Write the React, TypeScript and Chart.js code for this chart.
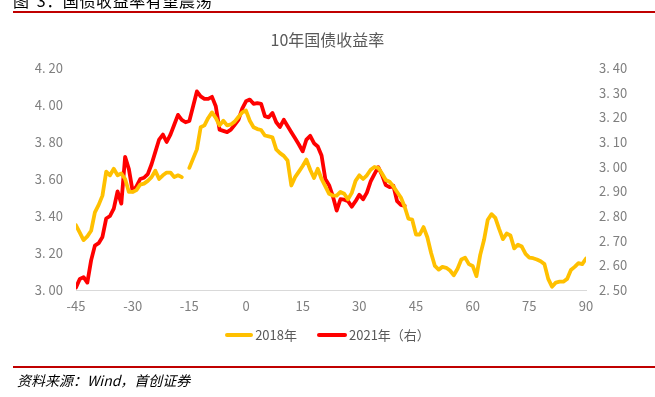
import React, { useEffect, useRef } from "react";
import { Chart, registerables } from "chart.js";

Chart.register(...registerables);

// x positions are trading days relative to the reference date, starting at -45
const xStart = -45;
const xMin = -45;
const xMax = 90;
const xStep = 15;

// 2018 10Y yield (left axis), one value per day from -45 to 90
const yield2018: (number | null)[] = [
  3.35, 3.31, 3.27, 3.29, 3.32, 3.42, 3.46, 3.51, 3.64, 3.62,
  3.655, 3.62, 3.63, 3.6, 3.53, 3.53, 3.54, 3.57, 3.575, 3.59,
  3.61, 3.645, 3.6, 3.62, 3.635, 3.635, 3.61, 3.62, 3.61, null,
  3.66, 3.71, 3.76, 3.88, 3.89, 3.93, 3.96, 3.93, 3.89, 3.915,
  3.89, 3.895, 3.91, 3.935, 3.96, 3.97, 3.915, 3.88, 3.87, 3.865,
  3.835, 3.83, 3.825, 3.76, 3.74, 3.725, 3.7, 3.565, 3.61, 3.64,
  3.67, 3.705, 3.65, 3.605, 3.655, 3.6, 3.56, 3.52, 3.51, 3.51,
  3.53, 3.52, 3.49, 3.525, 3.59, 3.62, 3.6, 3.62, 3.65, 3.665,
  3.66, 3.63, 3.595, 3.585, 3.56, 3.53, 3.5, 3.45, 3.385, 3.38,
  3.3, 3.3, 3.34, 3.285, 3.2, 3.13, 3.11, 3.125, 3.12, 3.105,
  3.08, 3.115, 3.165, 3.175, 3.14, 3.13, 3.075, 3.19, 3.27, 3.38,
  3.41, 3.39, 3.33, 3.275, 3.305, 3.295, 3.225, 3.245, 3.235, 3.195,
  3.175, 3.172, 3.165, 3.155, 3.14, 3.06, 3.018, 3.04, 3.045, 3.045,
  3.06, 3.108, 3.125, 3.145, 3.14, 3.17,
];

// 2021 10Y yield (right axis), one value per day from -45 to 42
const yield2021: number[] = [
  2.51, 2.545, 2.552, 2.53, 2.62, 2.68, 2.69, 2.715, 2.79, 2.8,
  2.83, 2.9, 2.85, 3.04, 2.99, 2.9, 2.92, 2.95, 2.955, 2.97,
  3.01, 3.06, 3.11, 3.13, 3.1, 3.13, 3.17, 3.21, 3.19, 3.18,
  3.185, 3.245, 3.305, 3.285, 3.275, 3.275, 3.283, 3.245, 3.15, 3.145,
  3.14, 3.15, 3.17, 3.19, 3.235, 3.265, 3.272, 3.255, 3.258, 3.255,
  3.205, 3.2, 3.218, 3.18, 3.161, 3.19, 3.165, 3.14, 3.115, 3.09,
  3.062, 3.11, 3.125, 3.095, 3.082, 3.045, 2.95, 2.925, 2.88, 2.822,
  2.868, 2.866, 2.86, 2.838, 2.86, 2.886, 2.868, 2.895, 2.94, 2.97,
  2.998, 2.967, 2.925, 2.917, 2.923, 2.86, 2.845, 2.841,
];

const leftMin = 3.0;
const leftMax = 4.2;
const leftStep = 0.2;
const rightMin = 2.5;
const rightMax = 3.4;
const rightStep = 0.1;

const label2018 = "2018年";
const label2021 = "2021年（右）";
const chartTitle = "10年国债收益率";
const figureTitle = "图 3：国债收益率有望震荡";
const sourceText = "资料来源：Wind，首创证券";

const color2018 = "#FFC000";
const color2021 = "#FF0000";
const textGray = "#595959";
const tickGray = "#7F7F7F";
const FONT = "'Noto Sans CJK SC', 'Noto Sans', sans-serif";

const fmt = (v: number) => v.toFixed(2).replace(".", ". ");

export default function App() {
  const canvasRef = useRef<HTMLCanvasElement | null>(null);

  useEffect(() => {
    if (!canvasRef.current) return;
    const d2018 = yield2018.map((v, i) => ({ x: xStart + i, y: v }));
    const d2021 = yield2021.map((v, i) => ({ x: xStart + i, y: v }));
    const chart = new Chart(canvasRef.current, {
      type: "line",
      data: {
        datasets: [
          {
            label: label2018,
            data: d2018 as any,
            borderColor: color2018,
            backgroundColor: color2018,
            borderWidth: 3.8,
            pointRadius: 0,
            tension: 0,
            spanGaps: false,
            yAxisID: "y",
            borderJoinStyle: "round",
            borderCapStyle: "round",
          },
          {
            label: label2021,
            data: d2021 as any,
            borderColor: color2021,
            backgroundColor: color2021,
            borderWidth: 3.8,
            pointRadius: 0,
            tension: 0,
            yAxisID: "y1",
            borderJoinStyle: "round",
            borderCapStyle: "round",
          },
        ],
      },
      options: {
        animation: false,
        responsive: false,
        maintainAspectRatio: false,
        layout: { padding: { top: 68, bottom: 77, left: 0, right: 0 } },
        plugins: {
          legend: { display: false },
          title: { display: false },
          tooltip: { enabled: false },
        },
        scales: {
          x: {
            type: "linear",
            min: xMin,
            max: xMax,
            grid: { display: false, drawTicks: false },
            border: { display: true, color: "#D9D9D9", width: 1 },
            ticks: {
              stepSize: xStep,
              padding: 8,
              color: tickGray,
              font: { family: FONT, size: 13 },
              maxRotation: 0,
              callback: (v: any) => String(Math.round(Number(v))),
            },
            afterFit: (s: any) => {
              s.height = 30;
            },
          },
          y: {
            position: "left",
            min: leftMin,
            max: leftMax,
            grid: { display: false, drawTicks: false },
            border: { display: false },
            ticks: {
              stepSize: leftStep,
              padding: 13,
              color: tickGray,
              font: { family: FONT, size: 13 },
              callback: (v: any) => fmt(Number(v)),
            },
            afterFit: (s: any) => {
              s.width = 76;
            },
          },
          y1: {
            position: "right",
            min: rightMin,
            max: rightMax,
            grid: { display: false, drawTicks: false },
            border: { display: false },
            ticks: {
              stepSize: rightStep,
              padding: 13,
              color: tickGray,
              font: { family: FONT, size: 13 },
              callback: (v: any) => fmt(Number(v)),
            },
            afterFit: (s: any) => {
              s.width = 69;
            },
          },
        },
      },
    });
    return () => chart.destroy();
  }, []);

  return (
    <div
      style={{
        position: "fixed",
        left: 0,
        top: 0,
        width: 655,
        height: 397,
        overflow: "hidden",
        background: "#fff",
        fontFamily: FONT,
      }}
    >
      <canvas
        ref={canvasRef}
        width={655}
        height={397}
        style={{ position: "absolute", left: 0, top: 0, width: 655, height: 397 }}
      />
      <div
        style={{
          position: "absolute",
          left: 13,
          top: -8,
          fontSize: 16,
          lineHeight: "16px",
          letterSpacing: 0.6,
          wordSpacing: 3,
          color: "#000",
          whiteSpace: "nowrap",
        }}
      >
        {figureTitle}
      </div>
      <div
        style={{
          position: "absolute",
          left: 13,
          top: 11,
          width: 642,
          height: 2,
          background: "#C00000",
        }}
      />
      <div
        style={{
          position: "absolute",
          left: 0,
          width: 655,
          top: 30,
          textAlign: "center",
          fontSize: 16,
          lineHeight: "19px",
          color: textGray,
          whiteSpace: "nowrap",
        }}
      >
        {chartTitle}
      </div>
      <div
        style={{
          position: "absolute",
          left: 0,
          width: 655,
          top: 326,
          display: "flex",
          justifyContent: "center",
          alignItems: "center",
          fontSize: 13,
          lineHeight: "18px",
          color: textGray,
          whiteSpace: "nowrap",
        }}
      >
        <span style={{ display: "inline-block", width: 28, height: 4, borderRadius: 2, background: color2018, marginRight: 2 }} />
        <span>{label2018}</span>
        <span style={{ display: "inline-block", width: 30, height: 4, borderRadius: 2, background: color2021, marginLeft: 20, marginRight: 2 }} />
        <span>{label2021}</span>
      </div>
      <div
        style={{
          position: "absolute",
          left: 13,
          top: 366,
          width: 642,
          height: 2,
          background: "#C00000",
        }}
      />
      <div
        style={{
          position: "absolute",
          left: 17,
          top: 371,
          fontSize: 14,
          lineHeight: "19px",
          fontStyle: "italic",
          color: "#000",
          whiteSpace: "nowrap",
        }}
      >
        {sourceText}
      </div>
    </div>
  );
}
